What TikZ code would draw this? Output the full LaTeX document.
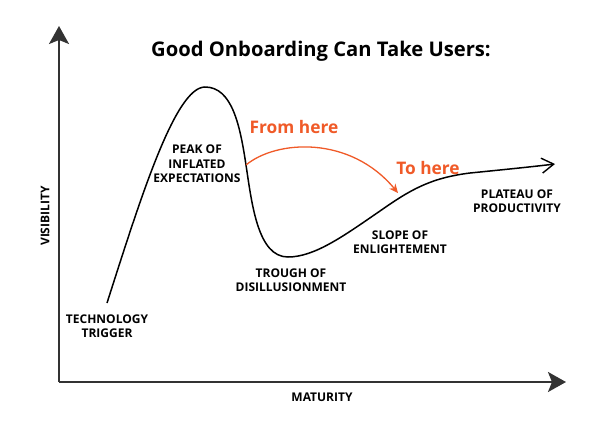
\documentclass[tikz,border=0pt]{standalone}
\usepackage{fontspec}
\setmainfont{Open Sans}
\usetikzlibrary{arrows.meta}
\definecolor{axisgray}{HTML}{333333}
\definecolor{hereorange}{HTML}{F05A28}
\tikzset{
  axisline/.style={draw=axisgray, line width=2pt, -{Stealth[length=18pt,width=20pt,inset=4pt]}},
  hypecurve/.style={draw=black, line width=1.5pt, -{Straight Barb[length=12pt,width=15pt,line width=1.4pt]}},
  herearrow/.style={draw=hereorange, line width=1.3pt, -{Stealth[length=9pt,width=8pt]}},
  phase/.style={font=\bfseries\fontsize{12}{14.5}\selectfont, align=center, inner sep=0pt, text=black},
  herelabel/.style={font=\bfseries\fontsize{17.3}{20}\selectfont, text=hereorange, inner sep=0pt},
  axislabel/.style={font=\bfseries\fontsize{12}{14}\selectfont, inner sep=0pt},
  titlelabel/.style={font=\bfseries\fontsize{20.2}{24}\selectfont, inner sep=0pt}
}
\begin{document}
\begin{tikzpicture}[x=1pt,y=-1pt]
\useasboundingbox[fill=white] (0,0) rectangle (600,429);
% axes
\coordinate (O) at (59,382);
\coordinate (ytop) at (59,26);
\coordinate (xend) at (566,382);
\draw[axisline] (O) -- (ytop);
\draw[axisline] (O) -- (xend);
% title and axis labels
\node[titlelabel] (title) at (321,51) {Good Onboarding Can Take Users:};
\node[axislabel] (mat) at (322,397) {MATURITY};
\node[axislabel, rotate=90] (vis) at (45,216) {VISIBILITY};
% curve
\coordinate (start) at (107,303);
\coordinate (peaktop) at (205,87);
\coordinate (from) at (246,165);
\coordinate (bottom) at (288,257);
\coordinate (rise) at (380,211);
\coordinate (knee) at (470,173);
\coordinate (tip) at (555,164);
\coordinate (to) at (398,193);
\draw[hypecurve] (start) .. controls (140,200) and (175,87) .. (peaktop)
  .. controls (232,87) and (240,125) .. (from)
  .. controls (252,205) and (258,257) .. (bottom)
  .. controls (315,257) and (345,235) .. (rise)
  .. controls (410,190) and (430,178) .. (knee)
  .. controls (500,170) and (530,167) .. (tip);
% orange arrow
\draw[herearrow] (from) .. controls (276,140) and (350,135) .. (to);
\node[herelabel] (fromhere) at (294,127) {From here};
\node[herelabel] (tohere) at (428,168) {To here};
% phase labels
\node[phase] (peak) at (197,164) {PEAK OF\\INFLATED\\EXPECTATIONS};
\node[phase] (trigger) at (107,326) {TECHNOLOGY\\TRIGGER};
\node[phase] (trough) at (291,280) {TROUGH OF\\DISILLUSIONMENT};
\node[phase] (slope) at (400,242) {SLOPE OF\\ENLIGHTEMENT};
\node[phase] (plateau) at (517,201) {PLATEAU OF\\PRODUCTIVITY};
\end{tikzpicture}
\end{document}
